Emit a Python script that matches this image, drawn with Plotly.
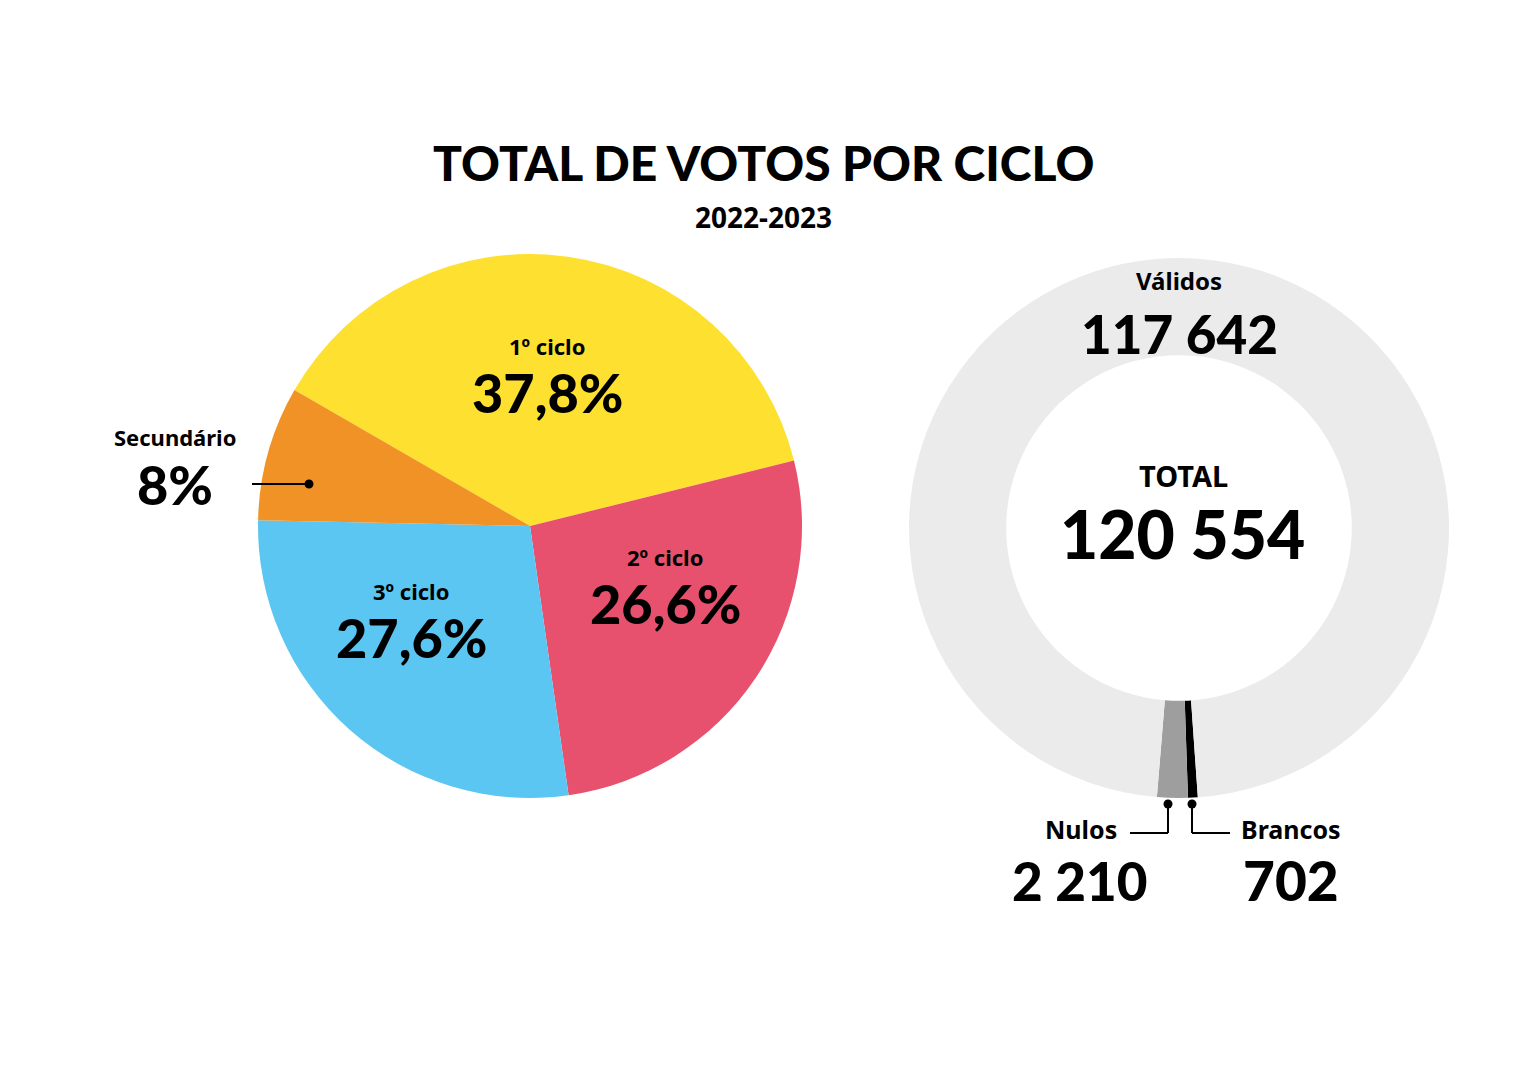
import plotly.graph_objects as go

# ---- data ----
title_text = "TOTAL DE VOTOS POR CICLO"
subtitle_text = "2022-2023"

ciclo_labels = ["1º ciclo", "2º ciclo", "3º ciclo", "Secundário"]
ciclo_pct = [37.8, 26.6, 27.6, 8.0]
ciclo_colors = ["#FEE130", "#E8516D", "#5BC6F1", "#F19226"]

votos_labels = ["Brancos", "Nulos", "Válidos"]
votos_values = [702, 2210, 117642]
votos_colors = ["#000000", "#9E9E9E", "#EBEBEB"]
total_label = "TOTAL"

# page is rendered with an 8px body margin
OFF = 8
W, H = 1527 - 2 * OFF, 1080 - 2 * OFF


def px(x):
    return (x - OFF) / W


def py(y):
    return 1 - (y - OFF) / H


def fmt_pct(v):
    if abs(v - round(v)) < 1e-9:
        return f"{int(round(v))}%"
    return f"{v:.1f}".replace(".", ",") + "%"


def fmt_int(v):
    return f"{v:,}".replace(",", " ")


BIG = "Lato"
SMALL = "Noto Sans"

fig = go.Figure()

fig.add_trace(go.Pie(
    labels=ciclo_labels, values=ciclo_pct,
    marker=dict(colors=ciclo_colors, line=dict(width=0)),
    sort=False, direction="clockwise", rotation=-60,
    textinfo="none", hoverinfo="label+percent",
    domain=dict(x=[px(257), px(803)], y=[py(798), py(254)]),
))

fig.add_trace(go.Pie(
    labels=votos_labels, values=votos_values, hole=0.64,
    marker=dict(colors=votos_colors, line=dict(width=0)),
    sort=False, direction="clockwise", rotation=176,
    textinfo="none", hoverinfo="label+value",
    domain=dict(x=[px(908), px(1450)], y=[py(798), py(258)]),
))

annotations = []


def add_text(x, y, text, size, family, weight):
    annotations.append(dict(
        x=px(x), y=py(y), xref="paper", yref="paper", text=text,
        showarrow=False, xanchor="center", yanchor="middle",
        font=dict(family=family, size=size, color="#000000", weight=weight),
    ))


add_text(763, 162, title_text, 48, BIG, 900)
add_text(763, 217, subtitle_text, 28, SMALL, 700)

# pie labels
pie_pos = [(547, 346, 392), (665, 557, 603), (411, 591, 637), (175, 437, 485)]
for lab, val, (x, y1, y2) in zip(ciclo_labels, ciclo_pct, pie_pos):
    add_text(x, y1, lab, 22, SMALL, 700)
    add_text(x, y2, fmt_pct(val), 54, BIG, 900)

# donut labels
idx_v = votos_labels.index("Válidos")
idx_n = votos_labels.index("Nulos")
idx_b = votos_labels.index("Brancos")
add_text(1179, 281, votos_labels[idx_v], 24, SMALL, 700)
add_text(1179, 333, fmt_int(votos_values[idx_v]), 53, BIG, 900)
add_text(1183, 475, total_label, 29, SMALL, 700)
add_text(1182, 533, fmt_int(sum(votos_values)), 66, BIG, 900)
add_text(1081, 829, votos_labels[idx_n], 25, SMALL, 700)
add_text(1080, 880, fmt_int(votos_values[idx_n]), 53, BIG, 900)
add_text(1291, 829, votos_labels[idx_b], 25, SMALL, 700)
add_text(1291, 880, fmt_int(votos_values[idx_b]), 55, BIG, 900)

shapes = []
line_style = dict(color="#000000", width=2)


def seg(x0, y0, x1, y1):
    shapes.append(dict(type="line", xref="paper", yref="paper",
                       x0=px(x0), y0=py(y0), x1=px(x1), y1=py(y1), line=line_style))


def dot(x, y, r=4.5):
    shapes.append(dict(type="circle", xref="paper", yref="paper",
                       x0=px(x - r), y0=py(y + r), x1=px(x + r), y1=py(y - r),
                       fillcolor="#000000", line=dict(width=0)))


# Secundário leader
seg(252, 484, 309, 484)
dot(309, 484)
# Nulos leader
seg(1130, 833, 1168, 833)
seg(1168, 833, 1168, 804)
dot(1168, 804)
# Brancos leader
seg(1230, 833, 1192, 833)
seg(1192, 833, 1192, 804)
dot(1192, 804)

fig.update_layout(
    width=W, height=H,
    margin=dict(l=0, r=0, t=0, b=0),
    paper_bgcolor="#FFFFFF", plot_bgcolor="#FFFFFF",
    showlegend=False,
    annotations=annotations,
    shapes=shapes,
)

fig.write_html("out.html")
